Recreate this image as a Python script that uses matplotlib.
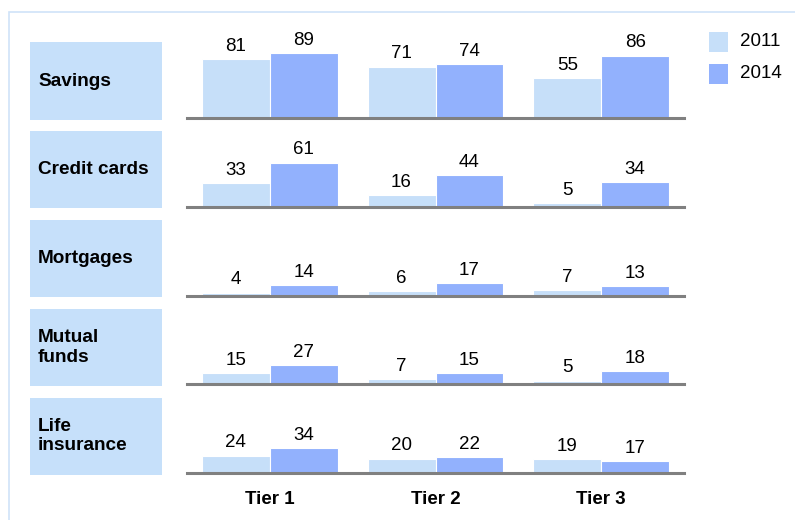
import numpy as np
import matplotlib.pyplot as plt
from matplotlib.patches import Rectangle

plt.rcParams['font.family'] = ['Liberation Sans', 'DejaVu Sans']

products = ['Savings', 'Credit cards', 'Mortgages', 'Mutual\nfunds', 'Life\ninsurance']
tiers = ['Tier 1', 'Tier 2', 'Tier 3']
years = ['2011', '2014']

# share per product and tier, one list per year
vals_2011 = [[81, 71, 55],
             [33, 16, 5],
             [4, 6, 7],
             [15, 7, 5],
             [24, 20, 19]]
vals_2014 = [[89, 74, 86],
             [61, 44, 34],
             [14, 17, 13],
             [27, 15, 18],
             [34, 22, 17]]

c2011 = '#c6dff9'
c2014 = '#92b1fd'
cbox = '#c6e0fa'
cline = '#808080'

W, H = 795, 520
fig = plt.figure(figsize=(W / 100, H / 100), dpi=100)

def fx(px):
    return px / W

def fy(py):
    return 1 - py / H

# outer frame
fig.add_artist(Rectangle((fx(8.5), fy(600)), fx(900), 600 / H - 11.5 / H, transform=fig.transFigure,
                         facecolor='none', edgecolor='#cfe3f8', lw=1.2))

row_h = 80
pitch = 88.75
x = np.arange(len(tiers))
bw = 0.41

for i, name in enumerate(products):
    base = 118 + pitch * i
    # category box
    fig.add_artist(Rectangle((fx(30), fy(base + 1.5)), fx(132), 77 / H, transform=fig.transFigure,
                             facecolor=cbox, edgecolor='none'))
    fig.text(fx(38), fy(base - 37), name, fontsize=13.7, fontweight='bold', va='center', ha='left')

    ax = fig.add_axes([fx(187), fy(base), fx(684 - 187), row_h / H])
    b1 = ax.bar(x - bw / 2, vals_2011[i], bw, color=c2011, edgecolor='white', lw=0.8)
    b2 = ax.bar(x + bw / 2, vals_2014[i], bw, color=c2014, edgecolor='white', lw=0.8)
    for bars in (b1, b2):
        for r in bars:
            ax.annotate(f'{r.get_height():g}', (r.get_x() + r.get_width() / 2, r.get_height()),
                        xytext=(0, 3), textcoords='offset points', ha='center', va='bottom', fontsize=13.5)
    ax.set_xlim(-0.5, 2.5)
    ax.set_ylim(0, row_h / 0.725)
    for s in ('top', 'left', 'right'):
        ax.spines[s].set_visible(False)
    ax.spines['bottom'].set_color(cline)
    ax.spines['bottom'].set_linewidth(2.2)
    ax.set_yticks([])
    ax.set_xticks([])
    ax.patch.set_alpha(0)
    if i == len(products) - 1:
        ax.set_xticks(x)
        ax.set_xticklabels(tiers, fontsize=13.5, fontweight='bold')
        ax.tick_params(axis='x', length=0, pad=13)

# legend
for k, (yr, col) in enumerate(zip(years, [c2011, c2014])):
    top = 32 + 32 * k
    fig.add_artist(Rectangle((fx(709), fy(top + 20)), fx(19), 20 / H, transform=fig.transFigure,
                             facecolor=col, edgecolor='none'))
    fig.text(fx(740), fy(top + 10), yr, fontsize=13.5, va='center', ha='left')

fig.savefig('out.png', dpi=100)
